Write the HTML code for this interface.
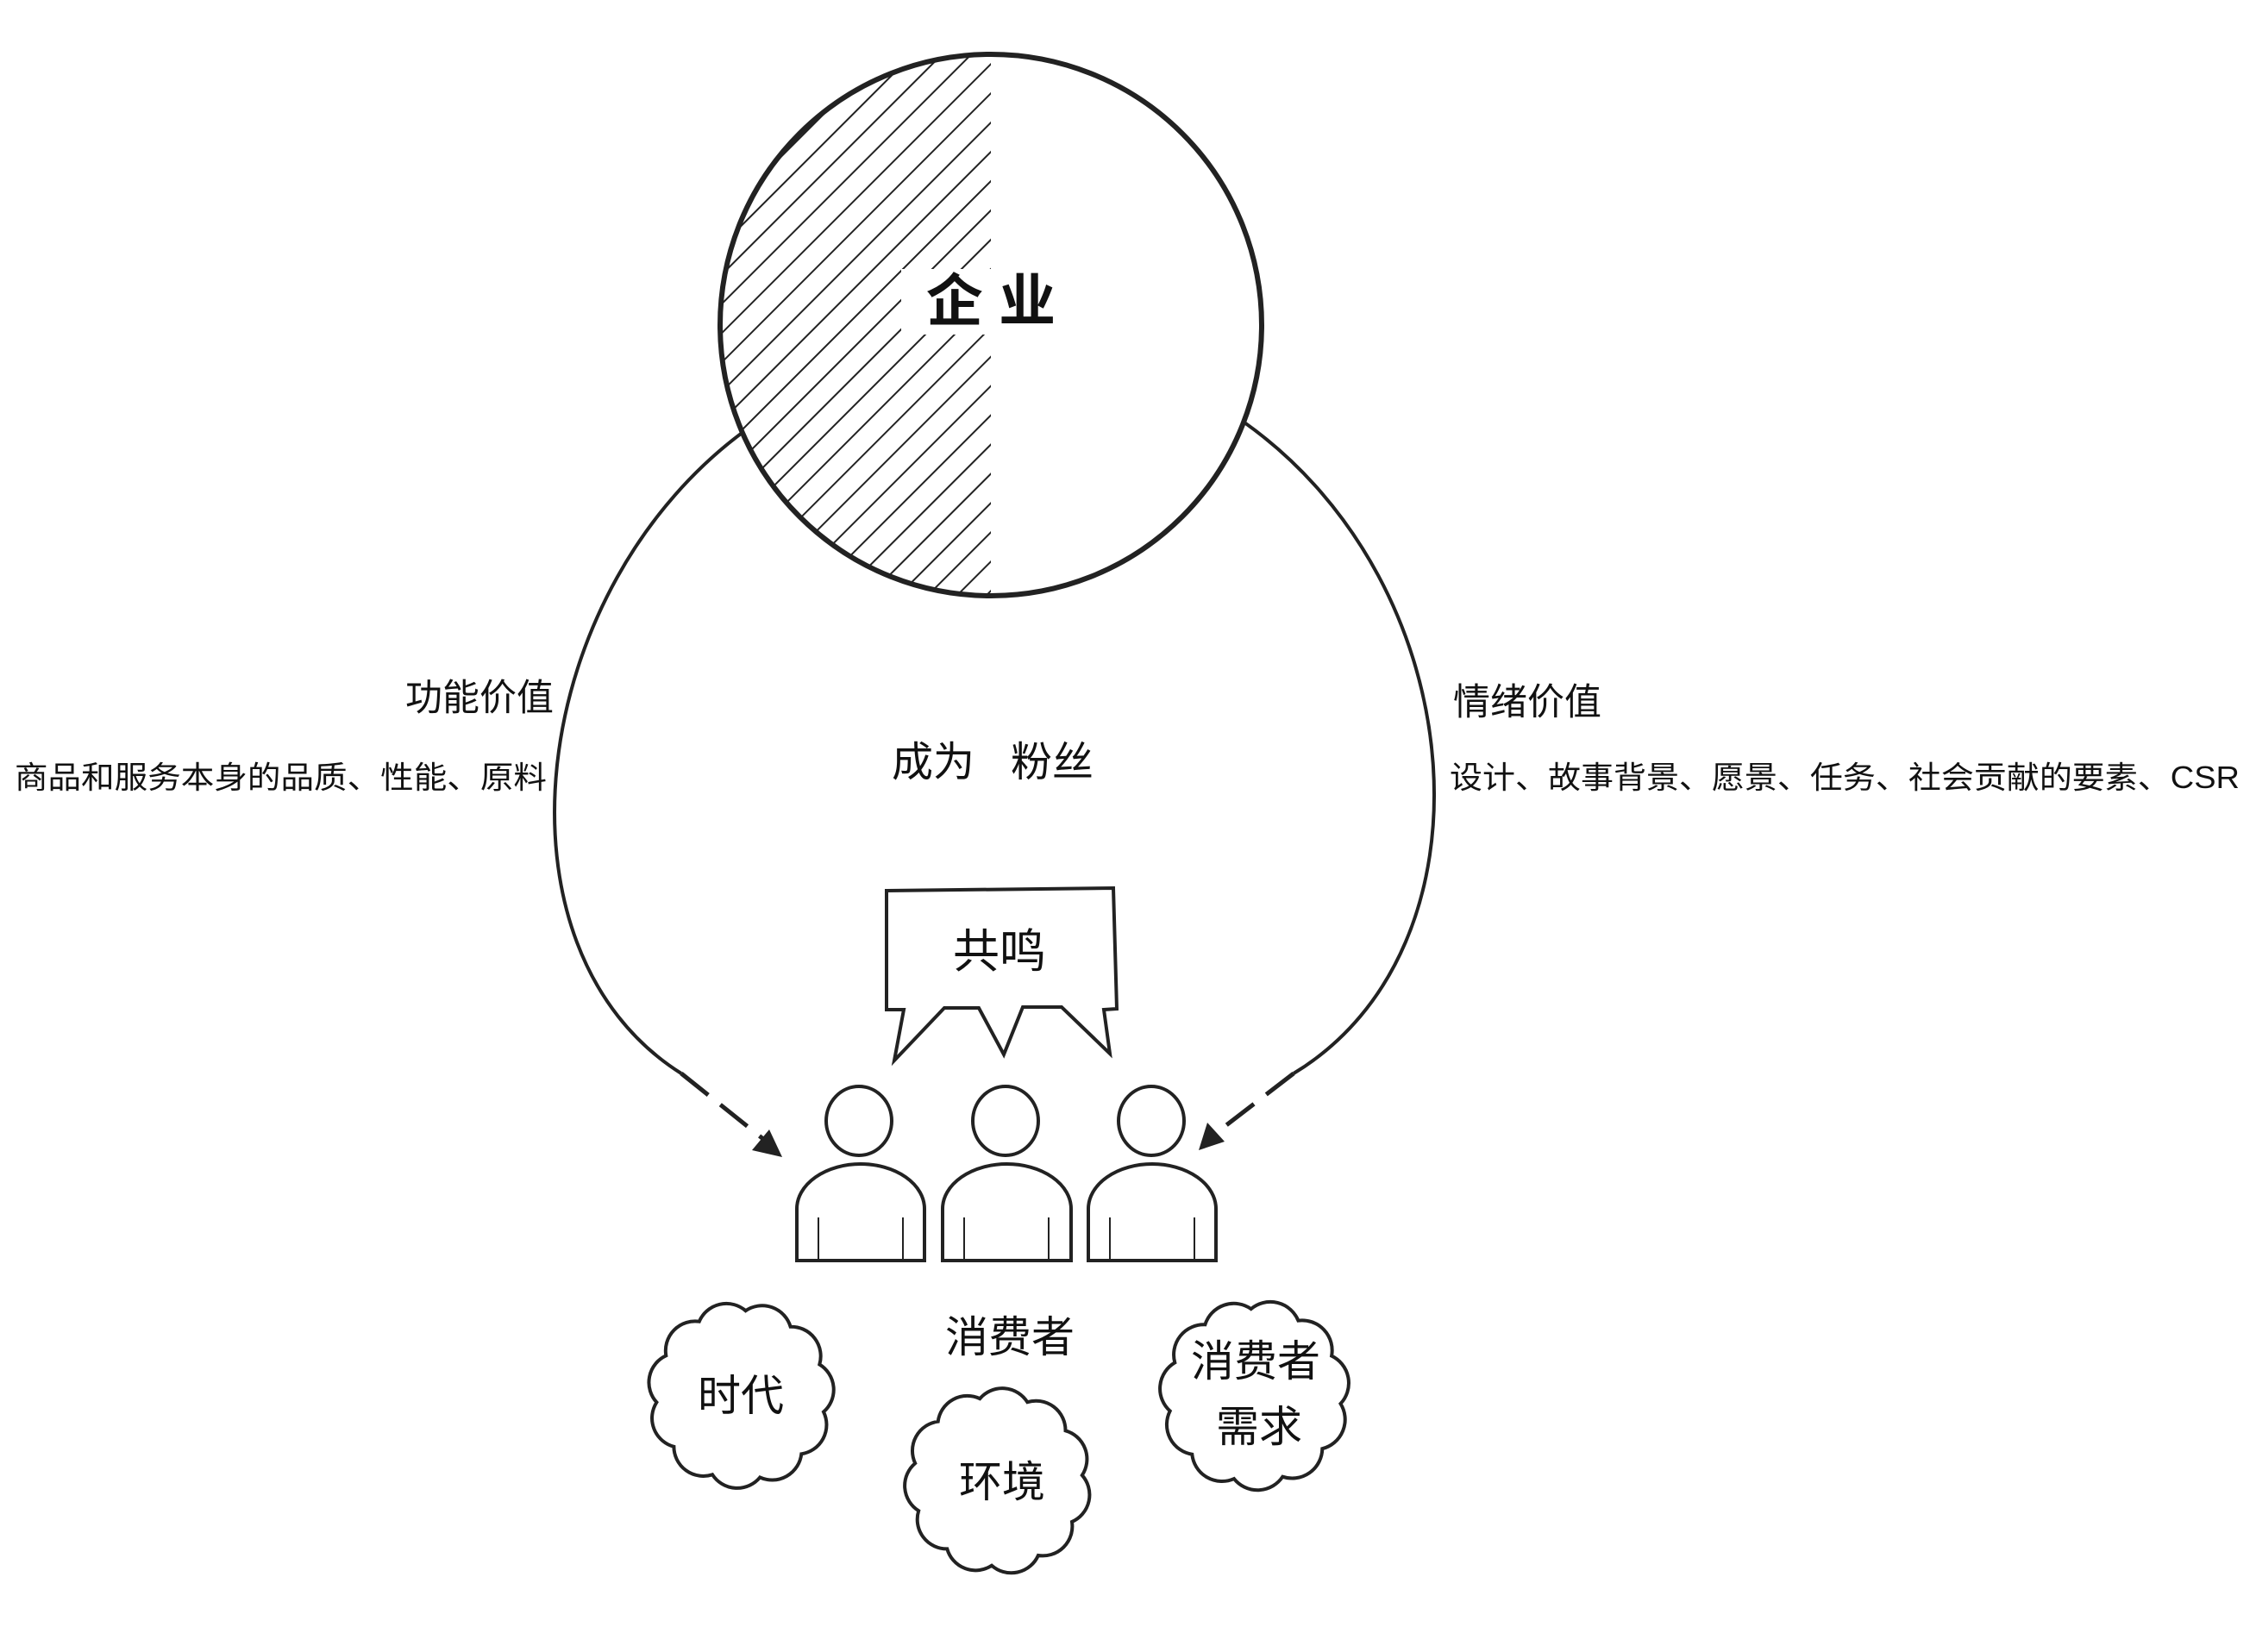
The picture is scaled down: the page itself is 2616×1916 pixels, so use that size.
<!DOCTYPE html>
<html><head><meta charset="utf-8"><style>
html,body{margin:0;padding:0;background:#fff;}
svg{display:block;}
text{font-family:"Liberation Sans","Noto Sans CJK SC",sans-serif;fill:#111;}
</style></head><body>
<svg id="s" width="2616" height="1916" viewBox="0 0 2616 1916" xmlns="http://www.w3.org/2000/svg">
<defs>
<pattern id="hatch" patternUnits="userSpaceOnUse" width="24" height="24" patternTransform="rotate(45)">
<line x1="0" y1="0" x2="0" y2="24" stroke="#222" stroke-width="4"/>
</pattern>
<clipPath id="lh"><rect x="800" y="0" width="349" height="800"/></clipPath>
</defs>
<g fill="none" stroke="#222" stroke-width="4">
<path d="M870,495 C610,680 560,1100 790,1245"/>
<path d="M790,1245 L890,1325" stroke-dasharray="40,18" stroke-width="5"/>
<path d="M1443,490 C1710,680 1740,1100 1500,1245"/>
<path d="M1500,1245 L1405,1318" stroke-dasharray="40,18" stroke-width="5"/>
</g>
<polygon points="907,1342 872,1334 892,1310" fill="#222"/>
<polygon points="1390,1334 1400,1302 1420,1324" fill="#222"/>
<circle cx="1149" cy="377" r="314" fill="#fff"/>
<circle cx="1149" cy="377" r="314" fill="url(#hatch)" clip-path="url(#lh)"/>
<circle cx="1149" cy="377" r="314" fill="none" stroke="#222" stroke-width="6"/>
<rect x="1045" y="312" width="210" height="76" fill="#fff"/>
<text x="1149" y="372" font-size="66" font-weight="bold" text-anchor="middle">企 业</text>

<text x="642" y="824" font-size="43" text-anchor="end">功能价值</text>
<text x="17" y="914" font-size="36" textLength="617" lengthAdjust="spacingAndGlyphs">商品和服务本身的品质、性能、原料</text>
<text x="1685" y="829" font-size="43">情绪价值</text>
<text x="1681" y="914" font-size="36" textLength="916" lengthAdjust="spacingAndGlyphs">设计、故事背景、愿景、任务、社会贡献的要素、CSR</text>
<text x="1034" y="900" font-size="48">成为</text>
<text x="1172" y="900" font-size="48">粉丝</text>

<path d="M1028,1033 L1291,1030 L1295,1170 L1280,1171 L1287,1222 L1231,1168 L1186,1168 L1164,1223 L1135,1169 L1095,1169 L1037,1230 L1048,1171 L1028,1171 Z" fill="#fff" stroke="#222" stroke-width="4"/>
<text x="1159" y="1122" font-size="54" text-anchor="middle">共鸣</text>

<g fill="#fff" stroke="#222" stroke-width="4">
<ellipse cx="996" cy="1300" rx="38" ry="40"/>
<ellipse cx="1166" cy="1300" rx="38" ry="40"/>
<ellipse cx="1335" cy="1300" rx="38" ry="40"/>
<path d="M924,1462 L924,1402 A74,52 0 0 1 1072,1402 L1072,1462 Z"/>
<path d="M1093,1462 L1093,1402 A74.5,52 0 0 1 1242,1402 L1242,1462 Z"/>
<path d="M1262,1462 L1262,1402 A74,52 0 0 1 1410,1402 L1410,1462 Z"/>
</g>
<g stroke="#222" stroke-width="2">
<line x1="949" y1="1412" x2="949" y2="1462"/><line x1="1047" y1="1412" x2="1047" y2="1462"/>
<line x1="1118" y1="1412" x2="1118" y2="1462"/><line x1="1216" y1="1412" x2="1216" y2="1462"/>
<line x1="1287" y1="1412" x2="1287" y2="1462"/><line x1="1385" y1="1412" x2="1385" y2="1462"/>
</g>
<g id="clouds" fill="#fff" stroke="#222" stroke-width="4"></g>
<text x="1171" y="1568" font-size="50" text-anchor="middle">消费者</text>
<text x="859" y="1636" font-size="50" text-anchor="middle">时代</text>
<text x="1162" y="1736" font-size="50" text-anchor="middle">环境</text>
<text x="1456" y="1596" font-size="50" text-anchor="middle">消费者</text>
<text x="1460" y="1672" font-size="50" text-anchor="middle">需求</text>
</svg>
<script>
function cloud(cx,cy,r,n,off){
 var d="",pts=[];
 for(var i=0;i<n;i++){var a=off+i*2*Math.PI/n;pts.push([cx+r*Math.cos(a),cy+r*Math.sin(a)]);}
 var ch=2*r*Math.sin(Math.PI/n), ar=ch*0.62;
 d="M"+pts[0][0].toFixed(1)+","+pts[0][1].toFixed(1);
 for(var i=1;i<=n;i++){var p=pts[i%n];d+=" A"+ar.toFixed(1)+","+ar.toFixed(1)+" 0 0 1 "+p[0].toFixed(1)+","+p[1].toFixed(1);}
 var e=document.createElementNS("http://www.w3.org/2000/svg","path");
 e.setAttribute("d",d+"Z");document.getElementById("clouds").appendChild(e);
}
cloud(859,1618,98,11,0.2);
cloud(1157,1718,98,11,0.5);
cloud(1455,1618,100,11,0.1);
</script>
</body></html>
